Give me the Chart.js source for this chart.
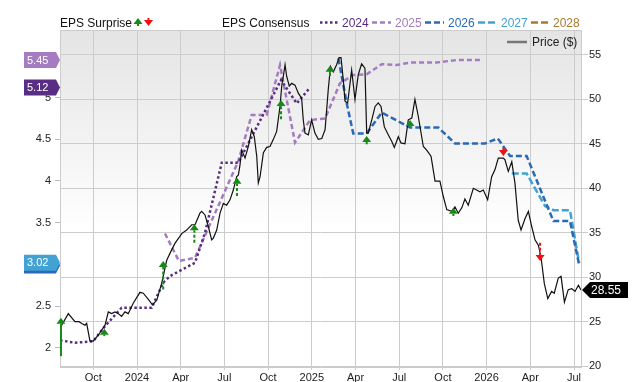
<!DOCTYPE html>
<html>
<head>
<meta charset="utf-8">
<script src="https://cdn.jsdelivr.net/npm/chart.js@4.4.1/dist/chart.umd.min.js"></script>
<style>
  html, body { margin: 0; padding: 0; background: #fff; }
  #wrap { width: 640px; height: 382px; }
</style>
</head>
<body>
<div id="wrap"><canvas id="chart" width="640" height="382"></canvas></div>
<script>
// x values are decimal years
const xTickValues = [2023.75, 2024, 2024.25, 2024.5, 2024.75, 2025, 2025.25, 2025.5, 2025.75, 2026, 2026.25, 2026.5];
const xTickLabels = ['Oct', '2024', 'Apr', 'Jul', 'Oct', '2025', 'Apr', 'Jul', 'Oct', '2026', 'Apr', 'Jul'];
const epsTicks = [2, 2.5, 3, 3.5, 4, 4.5, 5];
const priceTicks = [20, 25, 30, 35, 40, 45, 50, 55];

const priceX = [2023.569, 2023.607, 2023.645, 2023.668, 2023.684, 2023.703, 2023.712, 2023.731, 2023.750, 2023.779,
  2023.817, 2023.836, 2023.855, 2023.874, 2023.893, 2023.912, 2023.931, 2023.950, 2023.979, 2024.017,
  2024.036, 2024.065, 2024.088, 2024.113, 2024.141, 2024.170, 2024.199, 2024.217, 2024.256, 2024.284,
  2024.313, 2024.332, 2024.360, 2024.370, 2024.389, 2024.408, 2024.427, 2024.437, 2024.456, 2024.475,
  2024.494, 2024.513, 2024.532, 2024.551, 2024.570, 2024.580, 2024.589, 2024.599, 2024.618, 2024.637,
  2024.656, 2024.671, 2024.685, 2024.694, 2024.704, 2024.723, 2024.742, 2024.761, 2024.780, 2024.799,
  2024.818, 2024.828, 2024.837, 2024.847, 2024.856, 2024.871, 2024.885, 2024.904, 2024.923, 2024.942,
  2024.951, 2024.961, 2024.980, 2024.999, 2025.018, 2025.037, 2025.057, 2025.076, 2025.095, 2025.107,
  2025.123, 2025.142, 2025.156, 2025.167, 2025.180, 2025.190, 2025.205, 2025.228, 2025.247, 2025.266,
  2025.285, 2025.304, 2025.314, 2025.323, 2025.343, 2025.362, 2025.380, 2025.396, 2025.415, 2025.438,
  2025.457, 2025.472, 2025.495, 2025.510, 2025.533, 2025.552, 2025.572, 2025.590, 2025.609, 2025.638,
  2025.657, 2025.682, 2025.705, 2025.733, 2025.752, 2025.772, 2025.800, 2025.819, 2025.838, 2025.858,
  2025.876, 2025.895, 2025.924, 2025.943, 2025.962, 2025.981, 2026.006, 2026.029, 2026.048, 2026.067,
  2026.096, 2026.105, 2026.124, 2026.144, 2026.162, 2026.181, 2026.197, 2026.220, 2026.239, 2026.258,
  2026.277, 2026.296, 2026.311, 2026.330, 2026.350, 2026.372, 2026.387, 2026.410, 2026.426, 2026.445,
  2026.467, 2026.487, 2026.506, 2026.525, 2026.540];
const priceY = [24.6, 25.9, 25.0, 25.0, 24.8, 24.6, 24.8, 22.8, 22.8, 23.5,
  24.6, 26.1, 25.9, 26.1, 25.9, 25.6, 26.1, 25.9, 27.1, 28.3,
  28.2, 27.5, 26.9, 27.4, 29.3, 31.9, 33.1, 33.8, 34.9, 35.3,
  35.9, 35.9, 37.2, 37.4, 37.0, 35.7, 34.2, 34.4, 35.3, 37.2,
  38.3, 38.1, 38.7, 39.8, 41.3, 41.5, 42.6, 44.3, 43.4, 44.7,
  46.6, 45.8, 43.6, 40.6, 41.3, 44.0, 44.6, 44.7, 45.5, 46.4,
  49.2, 51.5, 52.6, 53.9, 52.6, 51.5, 51.8, 51.6, 50.7, 50.1,
  47.7, 46.2, 46.0, 47.7, 46.2, 45.5, 45.6, 46.6, 51.3, 53.7,
  53.1, 53.9, 54.7, 54.7, 52.2, 49.8, 49.6, 53.3, 50.0, 52.8,
  54.0, 53.5, 46.2, 46.2, 47.7, 49.2, 49.6, 49.2, 46.9, 46.0,
  45.3, 44.6, 45.8, 45.1, 45.0, 47.7, 47.9, 50.0, 48.1, 44.7,
  44.3, 43.6, 40.8, 40.8, 39.1, 37.6, 37.4, 37.9, 37.2, 37.8,
  38.8, 38.1, 40.0, 39.8, 39.6, 39.8, 38.7, 41.3, 42.1, 43.4,
  43.4, 43.2, 41.9, 43.0, 40.6, 36.4, 35.3, 36.6, 37.4, 35.7,
  34.2, 33.6, 32.3, 29.3, 27.6, 28.4, 28.2, 29.9, 30.1, 27.2,
  28.6, 28.7, 28.4, 29.1, 28.55];

// EPS consensus by fiscal year
const eps2024X = [2023.56, 2023.645, 2023.75, 2023.817, 2023.912, 2024.084, 2024.15, 2024.189, 2024.332, 2024.389, 2024.485, 2024.58, 2024.824, 2024.914, 2024.99];
const eps2024Y = [2.09, 2.06, 2.08, 2.26, 2.48, 2.48, 2.78, 2.86, 3.02, 3.38, 4.22, 4.22, 5.21, 4.93, 5.12];
const eps2025X = [2024.16, 2024.24, 2024.332, 2024.578, 2024.656, 2024.742, 2024.818, 2024.904, 2024.99, 2025.076, 2025.161, 2025.237, 2025.314, 2025.4, 2025.486, 2025.562, 2025.715, 2025.829, 2025.979];
const eps2025Y = [3.37, 3.04, 3.08, 4.23, 4.79, 4.79, 5.39, 4.46, 4.73, 4.75, 5.17, 5.27, 5.28, 5.40, 5.39, 5.42, 5.42, 5.45, 5.45];
const eps2026X = [2025.152, 2025.2, 2025.237, 2025.314, 2025.4, 2025.562, 2025.724, 2025.819, 2025.991, 2026.064, 2026.134, 2026.229, 2026.382, 2026.477, 2026.529];
const eps2026Y = [5.47, 4.93, 4.57, 4.57, 4.82, 4.64, 4.64, 4.45, 4.45, 4.51, 4.30, 4.30, 3.52, 3.52, 3.00];
const eps2027X = [2026.144, 2026.229, 2026.334, 2026.382, 2026.477, 2026.529];
const eps2027Y = [4.09, 4.09, 3.70, 3.65, 3.65, 3.02];
const eps2028X = [];
const eps2028Y = [];

// EPS surprise arrows: from consensus to reported
const surpriseX = [2023.565, 2023.813, 2024.15, 2024.328, 2024.572, 2024.824, 2025.104, 2025.314, 2025.562, 2025.81, 2026.096, 2026.306];
const surpriseFrom = [1.90, 2.14, 2.70, 3.26, 3.82, 4.74, 5.26, 4.44, 4.65, 3.58, 4.40, 3.26];
const surpriseTo = [2.36, 2.23, 3.04, 3.48, 4.04, 4.97, 5.38, 4.54, 4.73, 3.68, 4.30, 3.04];

const consensusYears = ['2024', '2025', '2026', '2027', '2028'];
const consensusColors = ['#5a2d84', '#a47cbf', '#2a6ab4', '#41a2d3', '#a97a2e'];
const consensusDash = [[2.5, 2.5], [5, 3], [6, 3], [7, 3], [7, 3]];

const FONT = '"Liberation Sans", Arial, sans-serif';
Chart.defaults.font.family = FONT;

const pts = (xs, ys) => xs.map((x, i) => ({ x: x, y: ys[i] }));

function epsDataset(i, xs, ys) {
    return {
        label: consensusYears[i],
        data: pts(xs, ys),
        yAxisID: 'yEps',
        borderColor: consensusColors[i],
        borderWidth: 2.5,
        borderDash: consensusDash[i],
        pointRadius: 0,
        tension: 0,
        fill: false,
    };
}

function drawArrow(ctx, x, y0, y1, color, solid) {
    const up = y1 < y0;
    const head = 6, half = 4.5;
    const baseY = up ? y1 + head : y1 - head;
    ctx.save();
    ctx.strokeStyle = color;
    ctx.fillStyle = color;
    ctx.lineWidth = 2;
    ctx.setLineDash(solid ? [] : [3, 2]);
    ctx.beginPath();
    ctx.moveTo(x, y0);
    ctx.lineTo(x, baseY);
    ctx.stroke();
    ctx.setLineDash([]);
    ctx.beginPath();
    ctx.moveTo(x, y1);
    ctx.lineTo(x - half, baseY);
    ctx.lineTo(x + half, baseY);
    ctx.closePath();
    ctx.fill();
    ctx.restore();
}

function leftTag(ctx, y, text, color) {
    ctx.save();
    ctx.fillStyle = color;
    ctx.beginPath();
    ctx.moveTo(24, y - 8);
    ctx.lineTo(56, y - 8);
    ctx.lineTo(60, y);
    ctx.lineTo(56, y + 8);
    ctx.lineTo(24, y + 8);
    ctx.closePath();
    ctx.fill();
    ctx.fillStyle = '#fff';
    ctx.font = '11px ' + FONT;
    ctx.textAlign = 'left';
    ctx.textBaseline = 'middle';
    ctx.fillText(text, 27, y + 0.5);
    ctx.restore();
}

function rightTag(ctx, x, y, text) {
    ctx.save();
    ctx.fillStyle = '#000';
    ctx.beginPath();
    ctx.moveTo(x, y);
    ctx.lineTo(x + 8, y - 8);
    ctx.lineTo(x + 46, y - 8);
    ctx.lineTo(x + 46, y + 8);
    ctx.lineTo(x + 8, y + 8);
    ctx.closePath();
    ctx.fill();
    ctx.fillStyle = '#fff';
    ctx.font = '12px ' + FONT;
    ctx.textAlign = 'left';
    ctx.textBaseline = 'middle';
    ctx.fillText(text, x + 9, y + 0.5);
    ctx.restore();
}

const decor = {
    id: 'decor',
    beforeDraw(chart) {
        const { ctx, chartArea: a } = chart;
        const g = ctx.createLinearGradient(0, a.top, 0, a.bottom);
        g.addColorStop(0, '#e4e4e4');
        g.addColorStop(0.6, '#ffffff');
        g.addColorStop(1, '#ffffff');
        ctx.save();
        ctx.fillStyle = g;
        ctx.fillRect(a.left, a.top, a.right - a.left, a.bottom - a.top);
        ctx.strokeStyle = '#cccccc';
        ctx.lineWidth = 1;
        ctx.beginPath();
        ctx.moveTo(a.left, a.top + 0.5);
        ctx.lineTo(a.right, a.top + 0.5);
        ctx.stroke();
        ctx.restore();
    },
    afterDatasetsDraw(chart) {
        const { ctx } = chart;
        const xs = chart.scales.x, ys = chart.scales.yEps;
        surpriseX.forEach((v, i) => {
            const color = surpriseTo[i] >= surpriseFrom[i] ? '#158a15' : '#ee1111';
            drawArrow(ctx, xs.getPixelForValue(v), ys.getPixelForValue(surpriseFrom[i]), ys.getPixelForValue(surpriseTo[i]), color, i === 0);
        });
    },
    afterDraw(chart) {
        const { ctx, chartArea: a } = chart;
        const ys = chart.scales.yEps, yp = chart.scales.yPrice;

        // last value tags
        leftTag(ctx, ys.getPixelForValue(eps2025Y[eps2025Y.length - 1]), eps2025Y[eps2025Y.length - 1].toFixed(2), consensusColors[1]);
        leftTag(ctx, ys.getPixelForValue(eps2024Y[eps2024Y.length - 1]), eps2024Y[eps2024Y.length - 1].toFixed(2), consensusColors[0]);
        leftTag(ctx, ys.getPixelForValue(eps2026Y[eps2026Y.length - 1]) + 1, eps2026Y[eps2026Y.length - 1].toFixed(2), consensusColors[2]);
        leftTag(ctx, ys.getPixelForValue(eps2027Y[eps2027Y.length - 1]), eps2027Y[eps2027Y.length - 1].toFixed(2), consensusColors[3]);
        const lastPrice = priceY[priceY.length - 1];
        rightTag(ctx, a.right + 1, yp.getPixelForValue(lastPrice), lastPrice.toFixed(2));

        // legend row
        ctx.save();
        ctx.font = '12px ' + FONT;
        ctx.textBaseline = 'alphabetic';
        ctx.textAlign = 'left';
        ctx.fillStyle = '#111';
        ctx.fillText('EPS Surprise', 60, 27);
        drawArrow(ctx, 138, 26, 18, '#158a15', true);
        drawArrow(ctx, 148.5, 18, 26, '#ee1111', true);
        ctx.fillStyle = '#111';
        ctx.fillText('EPS Consensus', 222, 27);

        const segX = [320, 372, 425, 478, 531];
        const textX = [342, 395, 448, 501, 553];
        consensusYears.forEach((yr, i) => {
            ctx.strokeStyle = consensusColors[i];
            ctx.lineWidth = 2.5;
            ctx.setLineDash(consensusDash[i]);
            ctx.beginPath();
            ctx.moveTo(segX[i], 22.5);
            ctx.lineTo(segX[i] + 19, 22.5);
            ctx.stroke();
            ctx.setLineDash([]);
            ctx.fillStyle = consensusColors[i];
            ctx.fillText(yr, textX[i], 27);
        });

        // price legend inside plot
        ctx.strokeStyle = '#777';
        ctx.lineWidth = 2.5;
        ctx.beginPath();
        ctx.moveTo(507, 42);
        ctx.lineTo(527, 42);
        ctx.stroke();
        ctx.fillStyle = '#222';
        ctx.fillText('Price ($)', 532, 46);
        ctx.restore();
    }
};

const chart = new Chart(document.getElementById('chart'), {
    type: 'line',
    data: {
        datasets: [
            {
                label: 'Price ($)',
                data: pts(priceX, priceY),
                yAxisID: 'yPrice',
                borderColor: '#111',
                borderWidth: 1.2,
                pointRadius: 0,
                tension: 0,
                fill: false,
            },
            epsDataset(0, eps2024X, eps2024Y),
            epsDataset(1, eps2025X, eps2025Y),
            epsDataset(2, eps2026X, eps2026Y),
            epsDataset(3, eps2027X, eps2027Y),
            epsDataset(4, eps2028X, eps2028Y),
        ],
    },
    options: {
        responsive: false,
        animation: false,
        layout: { padding: { top: 30, left: 0, right: 0, bottom: 0 } },
        plugins: {
            legend: { display: false },
            tooltip: { enabled: false },
        },
        scales: {
            x: {
                type: 'linear',
                position: 'bottom',
                min: 2023.5595,
                max: 2026.540,
                afterBuildTicks: s => { s.ticks = xTickValues.map(v => ({ value: v })); },
                afterFit: s => { s.height = 15; },
                grid: { color: '#cccccc', tickLength: 3 },
                border: { color: '#cccccc' },
                ticks: {
                    callback: v => xTickLabels[xTickValues.indexOf(v)],
                    font: { size: 11 },
                    color: '#222',
                    padding: 1,
                    maxRotation: 0,
                    autoSkip: false,
                },
            },
            yEps: {
                type: 'linear',
                position: 'left',
                min: 1.77,
                max: 5.81,
                afterBuildTicks: s => { s.ticks = epsTicks.map(v => ({ value: v })); },
                afterFit: s => { s.width = 60; },
                grid: { drawOnChartArea: false, color: '#bbbbbb', tickLength: 5 },
                border: { color: '#cccccc' },
                ticks: { callback: v => String(v), font: { size: 11 }, color: '#222', padding: 4 },
            },
            yPrice: {
                type: 'linear',
                position: 'right',
                min: 19.9,
                max: 57.8,
                afterBuildTicks: s => { s.ticks = priceTicks.map(v => ({ value: v })); },
                afterFit: s => { s.width = 59; },
                grid: { color: '#cccccc', tickLength: 7 },
                border: { color: '#cccccc' },
                ticks: { callback: v => String(v), font: { size: 11 }, color: '#222', padding: 1 },
            },
        },
    },
    plugins: [decor],
});
</script>
</body>
</html>
